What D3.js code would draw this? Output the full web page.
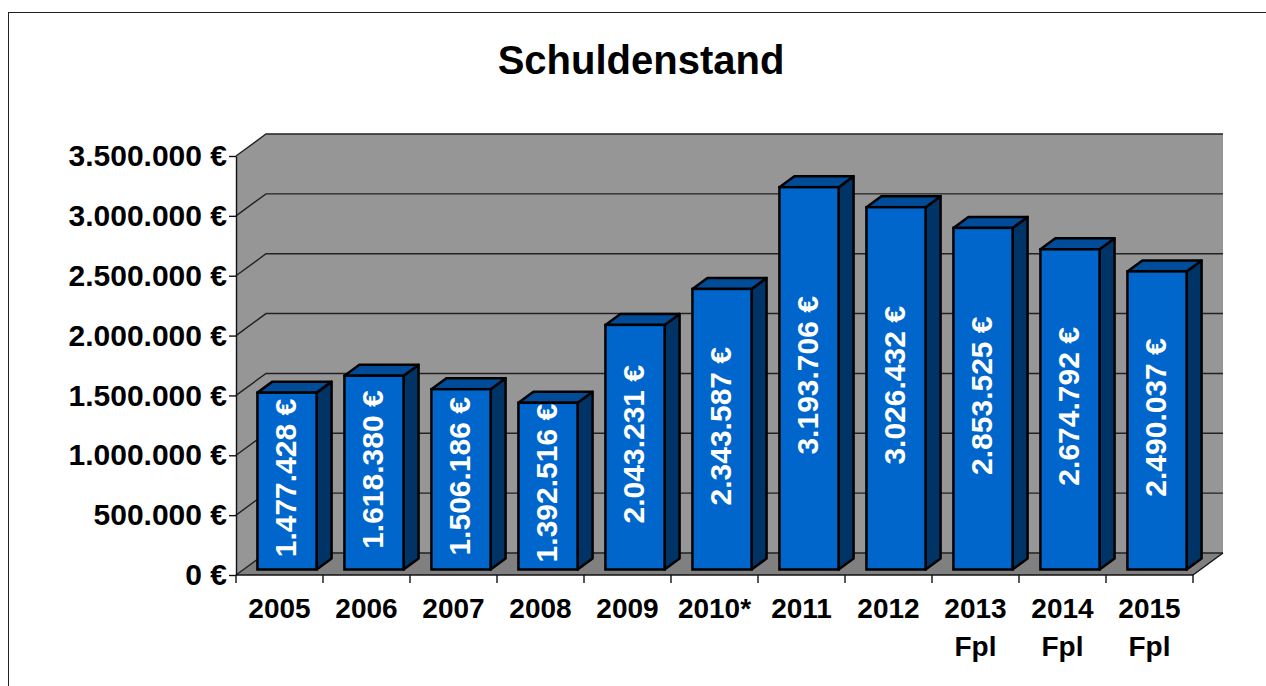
<!DOCTYPE html>
<html>
<head>
<meta charset="utf-8">
<script src="https://cdn.jsdelivr.net/npm/d3@7"></script>
<style>
  html, body { margin: 0; padding: 0; background: #fff; }
  svg { display: block; font-family: "Liberation Sans", Arial, sans-serif; }
</style>
</head>
<body>
<svg id="chart" width="1266" height="686"></svg>
<script>
// chart data
const title = "Schuldenstand";
const categories = ["2005", "2006", "2007", "2008", "2009", "2010*", "2011", "2012", "2013 Fpl", "2014 Fpl", "2015 Fpl"];
const debt = [1477428, 1618380, 1506186, 1392516, 2043231, 2343587, 3193706, 3026432, 2853525, 2674792, 2490037];
const yTicks = [0, 500000, 1000000, 1500000, 2000000, 2500000, 3000000, 3500000];

const svg = d3.select('#chart');

// german number format
const de = d3.formatLocale({ decimal: ",", thousands: ".", grouping: [3], currency: ["", " €"] });
const fmt = v => de.format(",.0f")(v) + " €";

// plot geometry (front plane + depth vector)
const plot = { left: 236, right: 1193, bottom: 575, top: 156 };
const depth = { dx: 30, dy: -22 };
const f0 = 0.25, f1 = 0.75; // bars occupy middle half of depth

const x = d3.scaleBand()
    .domain(categories)
    .range([plot.left, plot.right])
    .paddingInner(0.32)
    .paddingOuter(0.16);

const y = d3.scaleLinear()
    .domain([0, 3500000])
    .range([plot.bottom, plot.top]);

// outer frame
svg.append('rect')
    .attr('x', 8.5).attr('y', 12.5)
    .attr('width', 1400).attr('height', 800)
    .attr('fill', 'none').attr('stroke', '#222').attr('stroke-width', 1);

// title
svg.append('text')
    .attr('x', 641).attr('y', 74)
    .attr('text-anchor', 'middle')
    .style('font-size', '40px').style('font-weight', 'bold')
    .text(title);

const wallColor = '#969696', floorColor = '#808080';
const yMax = y.domain()[1];
const pt = (px, py) => px + ',' + py;

// left wall
svg.append('polygon')
    .attr('points', [pt(plot.left, y(0)), pt(plot.left, y(yMax)),
        pt(plot.left + depth.dx, y(yMax) + depth.dy), pt(plot.left + depth.dx, y(0) + depth.dy)].join(' '))
    .attr('fill', wallColor);

// back wall
svg.append('rect')
    .attr('x', plot.left + depth.dx).attr('y', y(yMax) + depth.dy)
    .attr('width', plot.right - plot.left).attr('height', y(0) - y(yMax))
    .attr('fill', wallColor);

// floor
svg.append('polygon')
    .attr('points', [pt(plot.left, y(0)), pt(plot.right, y(0)),
        pt(plot.right + depth.dx, y(0) + depth.dy), pt(plot.left + depth.dx, y(0) + depth.dy)].join(' '))
    .attr('fill', floorColor);

// gridlines (left wall diagonal + back wall horizontal)
svg.append('g').selectAll('polyline')
    .data(yTicks)
    .join('polyline')
    .attr('points', d => [pt(plot.left, y(d)), pt(plot.left + depth.dx, y(d) + depth.dy),
        pt(plot.right + depth.dx, y(d) + depth.dy)].join(' '))
    .attr('fill', 'none').attr('stroke', '#222').attr('stroke-width', 1.4);

// right floor edge
svg.append('line')
    .attr('x1', plot.right).attr('y1', y(0))
    .attr('x2', plot.right + depth.dx).attr('y2', y(0) + depth.dy)
    .attr('stroke', '#111').attr('stroke-width', 1.4);

// y axis
const yAxis = d3.axisLeft(y)
    .tickValues(yTicks)
    .tickFormat(fmt)
    .tickSize(7)
    .tickPadding(2)
    .tickSizeOuter(0);

const yG = svg.append('g')
    .attr('transform', `translate(${plot.left},0)`)
    .call(yAxis);
yG.select('.domain').attr('stroke', '#111').attr('stroke-width', 1.4);
yG.selectAll('.tick line').attr('stroke', '#111').attr('stroke-width', 1.4);
yG.selectAll('.tick text')
    .attr('fill', '#000')
    .style('font-size', '30px').style('font-weight', 'bold')
    .style('font-family', '"Liberation Sans", Arial, sans-serif');

// x axis line and ticks at category boundaries
const step = x.step();
const pad = step * x.paddingOuter();
const bounds = categories.map(c => x(c) - pad).concat([plot.right]);

svg.append('line')
    .attr('x1', plot.left).attr('y1', y(0))
    .attr('x2', plot.right).attr('y2', y(0))
    .attr('stroke', '#111').attr('stroke-width', 1.4);

svg.append('g').selectAll('line')
    .data(bounds)
    .join('line')
    .attr('x1', d => d).attr('x2', d => d)
    .attr('y1', y(0)).attr('y2', y(0) + 8)
    .attr('stroke', '#111').attr('stroke-width', 1.4);

// x labels (may be two lines)
const xLab = svg.append('g').selectAll('text')
    .data(categories)
    .join('text')
    .attr('x', d => x(d) - pad + step / 2)
    .attr('y', 618)
    .attr('text-anchor', 'middle')
    .style('font-size', '28px').style('font-weight', 'bold');

xLab.selectAll('tspan')
    .data(d => d.split(' '))
    .join('tspan')
    .attr('x', function () { return d3.select(this.parentNode).attr('x'); })
    .attr('dy', (d, i) => i === 0 ? 0 : 38)
    .text(d => d);

// bars
const bw = x.bandwidth();
const bdx = (f1 - f0) * depth.dx, bdy = (f1 - f0) * depth.dy;

const bars = svg.append('g').selectAll('g')
    .data(categories.map((c, i) => ({ cat: c, value: debt[i] })))
    .join('g');

const geom = d => {
    const xl = x(d.cat) + f0 * depth.dx;
    const xr = xl + bw;
    const yb = y(0) + f0 * depth.dy;
    const yt = y(d.value) + f0 * depth.dy;
    return { xl, xr, yb, yt };
};

bars.append('polygon') // side
    .attr('points', d => {
        const g = geom(d);
        return [pt(g.xr, g.yt), pt(g.xr + bdx, g.yt + bdy), pt(g.xr + bdx, g.yb + bdy), pt(g.xr, g.yb)].join(' ');
    })
    .attr('fill', '#003366').attr('stroke', '#000').attr('stroke-width', 2.5).attr('stroke-linejoin', 'round');

bars.append('polygon') // top
    .attr('points', d => {
        const g = geom(d);
        return [pt(g.xl, g.yt), pt(g.xl + bdx, g.yt + bdy), pt(g.xr + bdx, g.yt + bdy), pt(g.xr, g.yt)].join(' ');
    })
    .attr('fill', '#004c99').attr('stroke', '#000').attr('stroke-width', 2.5).attr('stroke-linejoin', 'round');

bars.append('rect') // front
    .attr('x', d => geom(d).xl)
    .attr('y', d => geom(d).yt)
    .attr('width', bw)
    .attr('height', d => geom(d).yb - geom(d).yt)
    .attr('fill', '#0066cc').attr('stroke', '#000').attr('stroke-width', 2.5);

// value labels, rotated
bars.append('text')
    .attr('transform', d => {
        const g = geom(d);
        return `translate(${(g.xl + g.xr) / 2},${(g.yt + g.yb) / 2 - 3}) rotate(-90)`;
    })
    .attr('text-anchor', 'middle')
    .attr('dy', '0.3em')
    .attr('fill', '#fff')
    .style('font-size', '30px').style('font-weight', 'bold')
    .text(d => fmt(d.value));
</script>
</body>
</html>
